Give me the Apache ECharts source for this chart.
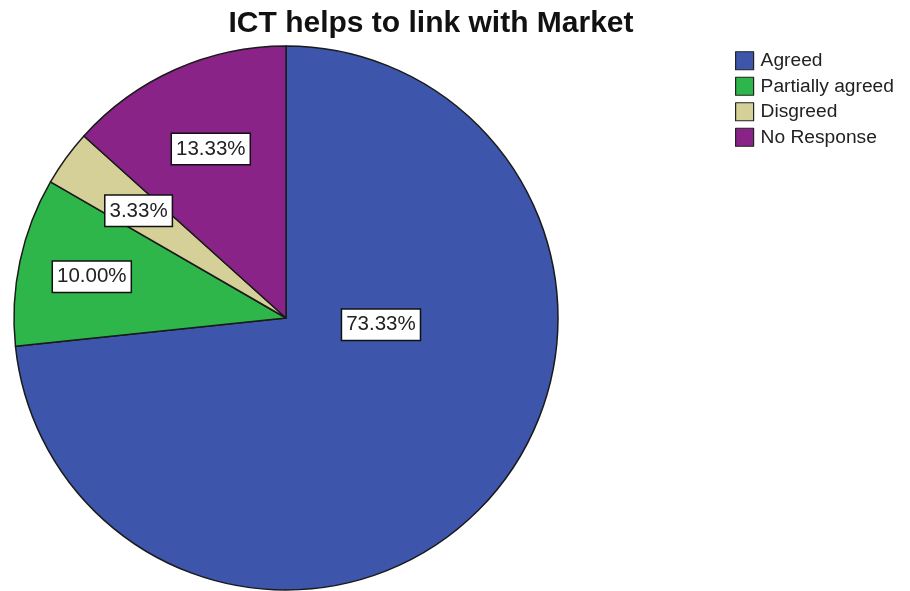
<!DOCTYPE html>
<html>
<head>
<meta charset="utf-8">
<script src="https://cdn.jsdelivr.net/npm/echarts@6/dist/echarts.min.js"></script>
<style>
  html, body { margin: 0; padding: 0; background: #fff; }
  #chart { width: 910px; height: 591px; }
</style>
</head>
<body>
<div id="chart"></div>
<script>
// Survey responses: "ICT helps to link with Market"
const categories = ['Agreed', 'Partially agreed', 'Disgreed', 'No Response'];
const percents = [73.33, 10.00, 3.33, 13.33];
const colors = ['#3d56ab', '#2fb64b', '#d5cf98', '#8a2387'];

// Label placement: fraction of the radius and angular nudge (degrees) per slice
const labelRadiusFrac = [0.35, 0.73, 0.67, 0.68];
const labelAngleShift = [-38, 0, 0, 0];

const CX = 286, CY = 318, R = 272;
const FONT = 'Arial, "Liberation Sans", sans-serif';

const total = percents.reduce((a, b) => a + b, 0);
const midAngles = [];
let acc = 0;
percents.forEach(v => {
  midAngles.push((acc + v / 2) / total * 360);
  acc += v;
});

const chart = echarts.init(document.getElementById('chart'), null, { renderer: 'canvas' });
chart.setOption({
  animation: false,
  backgroundColor: '#ffffff',
  title: {
    text: 'ICT helps to link with Market',
    left: 426,
    top: 4,
    textAlign: 'center',
    textStyle: { fontFamily: FONT, fontSize: 30, fontWeight: 'bold', color: '#111' }
  },
  legend: {
    orient: 'vertical',
    left: 730,
    top: 44,
    itemWidth: 18,
    itemHeight: 18,
    itemGap: 2,
    icon: 'rect',
    selectedMode: false,
    data: categories,
    itemStyle: { borderColor: '#222', borderWidth: 1.2 },
    textStyle: { fontFamily: FONT, fontSize: 19.2, lineHeight: 23.5, color: '#222', padding: [0, 0, 0, 2] }
  },
  series: [{
    type: 'pie',
    center: [CX, CY],
    radius: R,
    startAngle: 90,
    clockwise: true,
    silent: true,
    emphasis: { disabled: true },
    itemStyle: { borderColor: '#1a1a1a', borderWidth: 1.5 },
    label: {
      show: true,
      position: 'inside',
      formatter: p => p.value.toFixed(2) + '%',
      fontFamily: FONT,
      fontSize: 20.5,
      color: '#222',
      backgroundColor: '#ffffff',
      borderColor: '#111',
      borderWidth: 1.5,
      padding: [5, 4, 4, 4]
    },
    labelLine: { show: false },
    labelLayout: function (params) {
      const i = params.dataIndex;
      const a = (midAngles[i] + labelAngleShift[i]) * Math.PI / 180;
      const r = labelRadiusFrac[i] * R;
      return {
        x: CX + r * Math.sin(a),
        y: CY - r * Math.cos(a),
        align: 'center',
        verticalAlign: 'middle'
      };
    },
    data: categories.map((name, i) => ({
      name: name,
      value: percents[i],
      itemStyle: { color: colors[i] }
    }))
  }]
});
</script>
</body>
</html>
